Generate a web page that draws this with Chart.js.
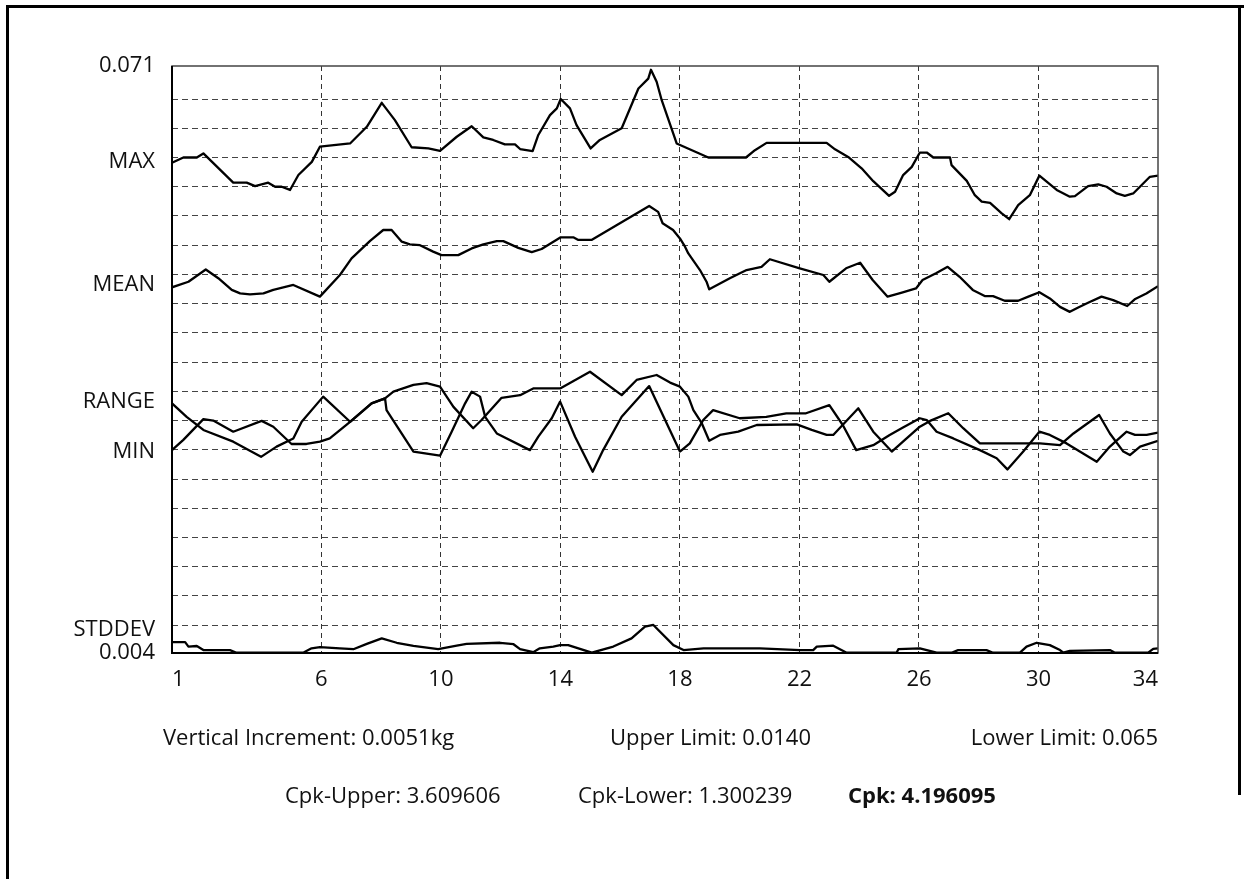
<!DOCTYPE html>
<html>
<head>
<meta charset="utf-8">
<script src="https://cdn.jsdelivr.net/npm/chart.js@4.4.1/dist/chart.umd.min.js"></script>
<style>
  html, body { margin: 0; padding: 0; background: #fff; }
  body { width: 1250px; height: 879px; position: relative; overflow: hidden; font-family: "Open Sans", sans-serif; }
  #frameTop { position: absolute; left: 6px; top: 5px; width: 1238px; height: 3px; background: #000; }
  #frameLeft { position: absolute; left: 6px; top: 5px; width: 3px; height: 880px; background: #000; }
  #frameRight { position: absolute; left: 1238px; top: 5px; width: 3px; height: 790px; background: #000; }
  canvas { position: absolute; left: 0; top: 0; }
  .stat { position: absolute; font-size: 22px; color: #111; white-space: nowrap; line-height: 26px; }
  .bold { font-weight: bold; }
</style>
</head>
<body>
<div id="frameTop"></div><div id="frameLeft"></div><div id="frameRight"></div>
<canvas id="c" width="1250" height="879"></canvas>
<div class="stat" style="left:163px; top:723px;">Vertical Increment: 0.0051kg</div>
<div class="stat" style="left:610px; top:723px;">Upper Limit: 0.0140</div>
<div class="stat" style="right:92px; top:723px;">Lower Limit: 0.065</div>
<div class="stat" style="left:285px; top:781px;">Cpk-Upper: 3.609606</div>
<div class="stat" style="left:578px; top:781px;">Cpk-Lower: 1.300239</div>
<div class="stat bold" style="left:848px; top:781px;">Cpk: 4.196095</div>
<script>
// x: sample number, y: position in vertical increments (grid units)
const maxX = [1.0,1.38,1.83,2.05,3.05,3.5,3.78,4.22,4.45,4.67,4.95,5.23,5.68,5.95,6.96,7.52,8.02,8.46,9.02,9.58,9.97,10.53,11.03,11.42,11.75,12.14,12.48,12.65,13.07,13.26,13.65,13.88,14.01,14.32,14.54,15.01,15.32,16.05,16.61,16.94,17.03,17.22,17.39,17.89,18.95,20.21,20.51,20.9,22.91,23.19,23.63,24.08,24.47,25.0,25.2,25.47,25.76,26.03,26.26,26.48,27.04,27.09,27.6,27.87,28.1,28.38,28.77,29.02,29.32,29.71,30.03,30.61,31.05,31.22,31.66,32.0,32.28,32.62,32.89,33.17,33.73,34.0];
const maxY = [16.82,17.0,17.0,17.14,16.14,16.14,16.02,16.14,16.0,16.0,15.89,16.4,16.85,17.37,17.48,18.05,18.87,18.28,17.35,17.31,17.23,17.71,18.07,17.69,17.6,17.45,17.45,17.29,17.22,17.77,18.45,18.68,19.0,18.68,18.11,17.31,17.6,18.0,19.36,19.7,20.0,19.59,18.96,17.48,17.0,17.0,17.25,17.5,17.5,17.28,17.02,16.63,16.19,15.69,15.83,16.4,16.68,17.17,17.17,17.0,17.0,16.74,16.2,15.71,15.49,15.45,15.09,14.89,15.37,15.71,16.38,15.89,15.66,15.68,16.02,16.08,16.0,15.77,15.69,15.77,16.34,16.38];

const meanX = [1.0,1.55,2.13,2.55,3.0,3.28,3.61,4.06,4.39,5.06,5.95,6.62,7.01,7.63,8.07,8.35,8.69,8.96,9.3,9.74,10.02,10.58,11.03,11.42,11.87,12.09,12.59,13.04,13.37,14.01,14.43,14.6,15.04,16.97,17.27,17.42,17.77,18.0,18.17,18.28,18.67,18.89,18.98,19.67,20.23,20.73,21.01,22.01,22.8,23.0,23.56,24.03,24.45,24.95,25.4,25.9,26.12,26.57,26.96,27.36,27.8,28.2,28.48,28.87,29.32,29.66,30.03,30.38,30.72,31.05,31.33,31.66,32.11,32.5,32.97,33.22,33.61,34.0];
const meanY = [12.56,12.75,13.17,12.87,12.47,12.35,12.32,12.35,12.47,12.64,12.24,12.98,13.55,14.15,14.52,14.52,14.12,14.03,14.0,13.78,13.66,13.66,13.89,14.03,14.14,14.14,13.91,13.76,13.87,14.27,14.27,14.18,14.18,15.34,15.14,14.75,14.52,14.23,13.95,13.72,13.15,12.75,12.49,12.87,13.15,13.26,13.52,13.21,12.98,12.75,13.21,13.4,12.81,12.24,12.37,12.52,12.81,13.04,13.26,12.92,12.47,12.26,12.26,12.1,12.1,12.24,12.39,12.18,11.89,11.72,11.87,12.03,12.24,12.12,11.92,12.15,12.35,12.6];

const rangeX = [1.0,1.49,2.05,3.05,3.98,4.5,5.06,5.34,6.06,6.96,7.68,8.13,8.41,9.08,9.52,9.97,10.42,11.08,11.36,12.03,12.65,13.09,13.99,14.99,16.05,16.55,17.22,17.67,18.0,18.28,18.45,18.73,18.98,19.34,19.95,20.57,21.91,22.41,22.91,23.13,23.97,24.47,25.09,25.53,26.03,26.37,26.98,27.48,28.04,30.05,30.72,31.17,32.03,32.39,32.84,33.06,33.4,34.0];
const rangeY = [8.59,8.13,7.68,7.28,6.76,7.11,7.39,7.96,8.82,7.96,8.59,8.76,8.99,9.22,9.28,9.16,8.47,7.74,8.02,8.78,8.87,9.1,9.1,9.67,8.87,9.39,9.56,9.3,9.16,8.82,8.36,7.91,7.31,7.51,7.62,7.85,7.87,7.68,7.51,7.51,8.42,7.62,6.94,7.34,7.79,7.99,8.25,7.74,7.22,7.22,7.16,7.56,8.19,7.56,6.94,6.82,7.11,7.31];

const minX = [1.0,1.38,2.05,2.38,3.05,4.0,4.39,5.0,5.5,5.95,6.28,6.96,7.68,8.13,8.18,9.08,9.97,10.36,10.81,11.03,11.31,11.48,11.87,12.98,13.26,13.71,13.99,14.49,15.08,15.43,16.05,16.97,18.0,18.33,18.78,19.11,20.0,20.89,21.56,22.22,23.0,23.45,23.9,24.47,25.02,25.42,26.03,26.26,26.59,27.15,28.04,28.6,28.96,29.49,30.03,30.38,30.94,31.95,32.39,32.95,33.23,33.62,34.0];
const minY = [6.99,7.34,8.05,8.0,7.62,7.99,7.79,7.2,7.2,7.28,7.39,7.96,8.59,8.76,8.36,6.94,6.8,7.62,8.59,8.99,8.82,8.13,7.56,6.99,7.45,8.08,8.65,7.45,6.25,6.99,8.13,9.18,6.94,7.22,8.02,8.36,8.08,8.13,8.25,8.25,8.53,7.85,6.99,7.16,7.51,7.74,8.08,8.02,7.62,7.39,6.99,6.71,6.33,6.94,7.62,7.51,7.22,6.59,7.11,7.62,7.51,7.51,7.59];

const stdX = [1.0,1.44,1.55,1.83,2.05,2.94,3.16,5.39,5.67,5.95,6.62,7.07,7.52,8.02,8.52,9.08,9.91,10.53,10.86,11.98,12.43,12.65,13.09,13.31,13.76,13.99,14.26,15.05,15.77,16.38,16.83,17.11,17.78,18.12,18.79,20.68,22.02,22.46,22.58,23.13,23.58,25.25,25.31,26.03,26.59,27.09,27.31,28.26,28.48,29.38,29.6,29.94,30.38,30.72,30.83,31.05,32.39,32.56,33.67,33.84,34.0];
const stdY = [0.42,0.42,0.27,0.29,0.15,0.15,0.06,0.06,0.21,0.25,0.21,0.18,0.36,0.55,0.4,0.29,0.18,0.3,0.36,0.4,0.35,0.18,0.08,0.21,0.27,0.32,0.32,0.06,0.27,0.55,0.95,1.01,0.32,0.15,0.21,0.21,0.15,0.15,0.27,0.3,0.06,0.06,0.18,0.21,0.06,0.06,0.15,0.15,0.06,0.06,0.27,0.4,0.32,0.15,0.06,0.12,0.15,0.06,0.06,0.19,0.21];

// axis ticks
const xTickValues = [1, 6, 10, 14, 18, 22, 26, 30, 34];
const yGridValues = [1, 2, 3, 4, 5, 6, 7, 8, 9, 10, 11, 12, 13, 14, 15, 16, 17, 18, 19];
const yLabelValues = [20.13, 16.85, 12.64, 8.64, 6.93, 0.85, 0.05];
const yLabelTexts = ['0.071', 'MAX', 'MEAN', 'RANGE', 'MIN', 'STDDEV', '0.004'];
const yMin = 0.05, yMax = 20.13;

function pts(xs, ys) { return xs.map((x, i) => ({ x: x, y: ys[i] })); }
function labelIndex(v) { return yLabelValues.findIndex(l => Math.abs(l - v) < 1e-6); }

const lineStyle = { borderColor: '#000', borderWidth: 2.3, pointRadius: 0, tension: 0, fill: false, borderJoinStyle: 'round' };

const frame = {
  id: 'frame',
  afterDraw(chart) {
    const a = chart.chartArea, ctx = chart.ctx;
    ctx.save();
    ctx.strokeStyle = '#444';
    ctx.lineWidth = 1.5;
    ctx.strokeRect(a.left, a.top, a.right - a.left, a.bottom - a.top);
    ctx.strokeStyle = '#000';
    ctx.lineWidth = 2;
    ctx.beginPath(); ctx.moveTo(a.left, a.top); ctx.lineTo(a.left, a.bottom); ctx.lineTo(a.right, a.bottom); ctx.stroke();
    ctx.restore();
  }
};

Chart.defaults.font.family = '"Open Sans", sans-serif';
Chart.defaults.font.size = 22;
Chart.defaults.color = '#111';

new Chart(document.getElementById('c'), {
  type: 'line',
  data: {
    datasets: [
      Object.assign({ label: 'MAX', data: pts(maxX, maxY) }, lineStyle),
      Object.assign({ label: 'MEAN', data: pts(meanX, meanY) }, lineStyle),
      Object.assign({ label: 'RANGE', data: pts(rangeX, rangeY) }, lineStyle),
      Object.assign({ label: 'MIN', data: pts(minX, minY) }, lineStyle),
      Object.assign({ label: 'STDDEV', data: pts(stdX, stdY) }, lineStyle)
    ]
  },
  options: {
    responsive: false,
    animation: false,
    events: [],
    layout: { padding: { left: 0, top: 66, right: 92, bottom: 186 } },
    plugins: { legend: { display: false }, tooltip: { enabled: false } },
    scales: {
      x: {
        type: 'linear', min: 1, max: 34,
        afterBuildTicks: s => { s.ticks = xTickValues.map(v => ({ value: v })); },
        afterFit: s => { s.height = 40; },
        ticks: { autoSkip: false, maxRotation: 0, align: 'inner', padding: 14, callback: v => String(v) },
        grid: { drawTicks: false, lineWidth: 1, color: c => (c.tick && (c.tick.value === 1 || c.tick.value === 34)) ? 'rgba(0,0,0,0)' : '#333' },
        border: { display: false, dash: [5, 4] }
      },
      y: {
        type: 'linear', min: yMin, max: yMax,
        afterBuildTicks: s => {
          const all = yGridValues.concat(yLabelValues).sort((a, b) => a - b);
          s.ticks = all.map(v => ({ value: v }));
        },
        afterFit: s => { s.width = 172; },
        ticks: { autoSkip: false, padding: 17, callback: v => { const i = labelIndex(v); return i >= 0 ? yLabelTexts[i] : ''; } },
        grid: { drawTicks: false, lineWidth: 1, color: c => (c.tick && labelIndex(c.tick.value) >= 0) ? 'rgba(0,0,0,0)' : '#444' },
        border: { display: false, dash: [6, 4] }
      }
    }
  },
  plugins: [frame]
});
</script>
</body>
</html>
